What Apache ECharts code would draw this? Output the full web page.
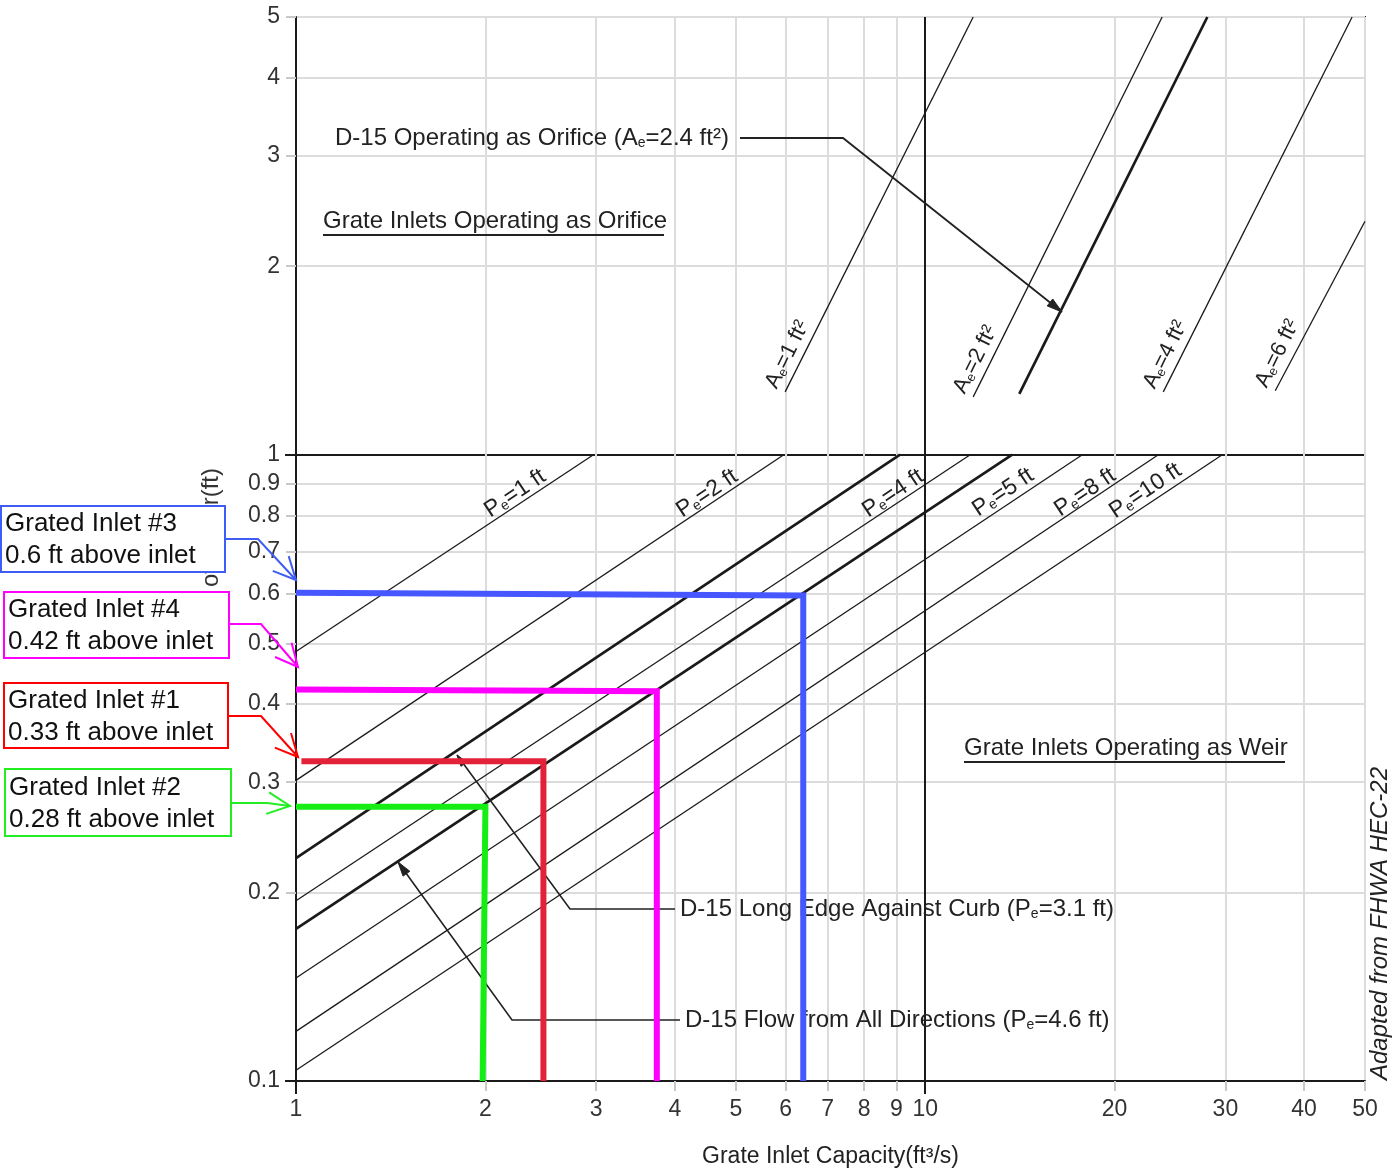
<!DOCTYPE html>
<html><head><meta charset="utf-8">
<script src="https://cdn.jsdelivr.net/npm/echarts@6/dist/echarts.min.js"></script>
<style>html,body{margin:0;padding:0;background:#fff}#c{width:1395px;height:1173px}</style>
</head><body><div id="c"></div>
<script>
// ---------- axis ticks ----------
const xTicks = [1,2,3,4,5,6,7,8,9,10,20,30,40,50];
const yTicks = [0.1,0.2,0.3,0.4,0.5,0.6,0.7,0.8,0.9,1,2,3,4,5];
const xDecades = [1,10];
const yDecades = [0.1,1];

// ---------- weir lines (Pe): capacity where the line meets d = 1 ft, depth where it meets Q = 1 cfs ----------
const weirP = ['1','2','3.1','4','4.6','5','8','10'];
const weirQatD1 = [2.97,5.96,9.12,11.79,13.75,17.77,23.47,29.66];
const weirDatQ1 = [0.485,0.302,0.227,0.194,0.175,0.146,0.120,0.104];
const weirBold  = [false,false,true,false,true,false,false,false];
const weirLabelled = [true,true,false,true,false,true,true,true];

// ---------- orifice lines (Ae): lower end and upper end ----------
const orificeA = ['1','2','2.4','4','6'];
const orificeLowQ  = [5.99,11.92,14.11,23.9,36.0];
const orificeLowD  = [1.26,1.237,1.251,1.26,1.265];
const orificeHighQ = [11.92,23.8,28.08,47.7,50];
const orificeHighD = [5,5,5,5,2.36];
const orificeBold  = [false,false,true,false,false];
const orificeLabelled = [true,true,false,true,true];

// ---------- grated inlets ----------
const inletNames = ['Grated Inlet #3','Grated Inlet #4','Grated Inlet #1','Grated Inlet #2'];
const inletDepthText = ['0.6','0.42','0.33','0.28'];
const inletQStart  = [1, 1, 1.02, 1];
const inletHeadStart = [0.602, 0.422, 0.324, 0.274];
const inletHeadEnd   = [0.596, 0.419, 0.324, 0.274];
const inletQTop    = [6.40, 3.745, 2.473, 2.00];
const inletQBottom = [6.40, 3.745, 2.473, 1.98];

const inletColors = ['#4657ff','#ff00ff','#e3223a','#14ee14'];
const boxColors   = ['#3f5cf5','#ff00ff','#ff0000','#22ee22'];
const FF = '"Liberation Sans", Arial, Helvetica, sans-serif';
const L = Math.log10;
const yMin = 0.1, yMax = 5, xMin = 1, xMax = 50;

function fmt(v){ return String(parseFloat(Math.pow(10, v).toPrecision(3))); }

const series = [];
weirP.forEach((p,i)=>{
  series.push({type:'line', silent:true, symbol:'none', z:2,
    data:[[L(1), L(weirDatQ1[i])],[L(weirQatD1[i]), L(1)]],
    lineStyle:{color:'#1a1a1a', width: weirBold[i]?2.7:1.3}});
});
orificeA.forEach((a,i)=>{
  series.push({type:'line', silent:true, symbol:'none', z:2,
    data:[[L(orificeLowQ[i]), L(orificeLowD[i])],[L(orificeHighQ[i]), L(orificeHighD[i])]],
    lineStyle:{color:'#1a1a1a', width: orificeBold[i]?2.7:1.3}});
});
inletNames.forEach((n,i)=>{
  series.push({type:'line', silent:true, symbol:'none', z:10,
    data:[[L(inletQStart[i]), L(inletHeadStart[i])],[L(inletQTop[i]), L(inletHeadEnd[i])],[L(inletQBottom[i]), L(yMin)]],
    lineStyle:{color:inletColors[i], width:6, join:'miter', cap:'butt'}});
});

// ---------- annotations (pixel layout) ----------
function head(tip, from, len, ang){
  const dx=from[0]-tip[0], dy=from[1]-tip[1], d=Math.hypot(dx,dy), ux=dx/d, uy=dy/d;
  const c=Math.cos(ang), s=Math.sin(ang);
  return [[tip[0]+len*(ux*c-uy*s), tip[1]+len*(ux*s+uy*c)], tip, [tip[0]+len*(ux*c+uy*s), tip[1]+len*(-ux*s+uy*c)]];
}
const G = [];
function text(x,y,t,o){
  o = o||{};
  G.push({type:'text', x:x, y:y, rotation:o.rot||0, z:o.z||5, silent:true,
    style:{text:t, fontSize:o.fs||24, fontFamily:FF, fontStyle:o.italic?'italic':'normal', fill:o.color||'#222',
      align:o.align||'left', textAlign:o.align||'left', verticalAlign:o.va||'middle', textVerticalAlign:o.va||'middle',
      lineHeight:o.lh, rich:o.rich}});
}
function poly(pts, color, w, z){ G.push({type:'polyline', z:z||5, silent:true, shape:{points:pts}, style:{stroke:color, lineWidth:w, fill:null}}); }
function tri(pts, color, z){ G.push({type:'polygon', z:z||5, silent:true, shape:{points:pts}, style:{fill:color, stroke:color, lineWidth:1}}); }

const richBase = (fs)=>({n:{fontSize:fs, fontFamily:FF, fill:'#222', verticalAlign:'bottom', lineHeight:fs+2},
                        s:{fontSize:Math.round(fs*0.6), fontFamily:FF, fill:'#222', verticalAlign:'bottom', lineHeight:fs+2}});

// y axis name (mostly hidden behind boxes)
text(211, 468, 'Depth of Water(ft)', {align:'right', rot:Math.PI/2, z:1, fs:24, color:'#333'});
// source note
text(1380, 1080, 'Adapted from FHWA HEC-22', {rot:Math.PI/2, italic:true, fs:24, color:'#222'});

// region titles
text(323, 221, 'Grate Inlets Operating as Orifice', {fs:24});
poly([[323,235],[664,235]], '#222', 1.8);
text(964, 748, 'Grate Inlets Operating as Weir', {fs:24});
poly([[964,762],[1285,762]], '#222', 1.8);

// D-15 orifice callout
text(335, 137, '{n|D-15 Operating as Orifice (A}{s|e}{n|=2.4 ft²)}', {rich:richBase(24)});
poly([[740,138],[843,138],[1062,312]], '#222', 1.8);
tri(head([1062,312],[843,138],16,0.28), '#222');
// D-15 long edge callout
text(680, 908, '{n|D-15 Long Edge Against Curb (P}{s|e}{n|=3.1 ft)}', {rich:richBase(24)});
poly([[675,909],[570,909],[457,755]], '#222', 1.6);
tri(head([457,755],[570,909],12,0.3), '#222');
// D-15 all directions callout
text(685, 1019, '{n|D-15 Flow from All Directions (P}{s|e}{n|=4.6 ft)}', {rich:richBase(24)});
poly([[680,1020],[512,1020],[398,862]], '#222', 1.6);
tri(head([398,862],[512,1020],15,0.28), '#222');

// weir labels
const weirLabelPos = [[493,522],[685,522],null,[871,522],null,[981,521],[1063,521],[1118,523]];
weirP.forEach((p,i)=>{
  if(!weirLabelled[i]) return;
  const q = weirLabelPos[i];
  text(q[0], q[1], '{n|P}{s|e}{n|='+p+' ft}', {rich:richBase(23), va:'bottom', rot:Math.atan(2/3)});
});
// orifice labels
const orificeLabelPos = [[781,392],[969,397],null,[1159,392],[1271,391]];
orificeA.forEach((a,i)=>{
  if(!orificeLabelled[i]) return;
  const q = orificeLabelPos[i];
  text(q[0], q[1], '{n|A}{s|e}{n|='+a+' ft²}', {rich:richBase(22), va:'bottom', rot:Math.atan(2)});
});

// inlet boxes and arrows
const boxes = [[1,506,224,66],[4,592,225,66],[4,683,224,65],[5,769,226,67]];
const arrows = [
  [[225,539],[258,539],[296,580]],
  [[229,624],[261,624],[298,667]],
  [[228,716],[261,716],[298,757]],
  [[231,803],[267,803],[290,806]]
];
inletNames.forEach((n,i)=>{
  const b = boxes[i];
  G.push({type:'rect', z:20, silent:true, shape:{x:b[0], y:b[1], width:b[2], height:b[3]},
    style:{fill:'#fff', stroke:boxColors[i], lineWidth:2}});
  text(b[0]+4, b[1]+b[3]/2+1, n+'\n'+inletDepthText[i]+' ft above inlet', {fs:26, lh:32, z:21, color:'#111'});
  const a = arrows[i];
  poly(a, boxColors[i], 2, 20);
  poly(head(a[2], a[1], 25, 0.45), boxColors[i], 2, 20);
});

const chart = echarts.init(document.getElementById('c'), null, {renderer:'canvas'});
const lblStyle = {color:'#333', fontSize:23, fontFamily:FF};
chart.setOption({
  animation:false,
  backgroundColor:'#fff',
  textStyle:{fontFamily:FF},
  grid:{left:296, right:30, top:17, bottom:90, show:true, borderColor:'#1a1a1a', borderWidth:2, backgroundColor:'transparent'},
  xAxis:[
    {type:'value', min:L(xMin), max:L(xMax), position:'bottom',
     axisLine:{show:true, onZero:false, lineStyle:{color:'#1a1a1a', width:2}},
     axisTick:{show:true, customValues:xTicks.map(L), length:10, lineStyle:{color:'#c8c8c8', width:2}},
     axisLabel:{customValues:xTicks.map(L), formatter:fmt, margin:17, ...lblStyle},
     splitLine:{show:true, lineStyle:{color:'#dcdcdc', width:2}},
     name:'Grate Inlet Capacity(ft³/s)', nameLocation:'middle', nameGap:64,
     nameTextStyle:{color:'#222', fontSize:23, fontFamily:FF}},
    {type:'value', min:L(xMin), max:L(xMax), position:'bottom',
     axisLine:{show:false, onZero:false},
     axisTick:{show:true, customValues:xDecades.map(L), length:13, lineStyle:{color:'#1a1a1a', width:2}},
     axisLabel:{show:false},
     splitLine:{show:true, lineStyle:{color:'#1a1a1a', width:2}}}
  ],
  yAxis:[
    {type:'value', min:L(yMin), max:L(yMax), position:'left',
     axisLine:{show:true, onZero:false, lineStyle:{color:'#1a1a1a', width:2}},
     axisTick:{show:true, customValues:yTicks.map(L), length:10, lineStyle:{color:'#c8c8c8', width:2}},
     axisLabel:{customValues:yTicks.map(L), formatter:fmt, margin:16, ...lblStyle},
     splitLine:{show:true, lineStyle:{color:'#dcdcdc', width:2}}},
    {type:'value', min:L(yMin), max:L(yMax), position:'left',
     axisLine:{show:false, onZero:false},
     axisTick:{show:true, customValues:yDecades.map(L), length:11, lineStyle:{color:'#1a1a1a', width:2}},
     axisLabel:{show:false},
     splitLine:{show:true, lineStyle:{color:'#1a1a1a', width:2}}}
  ],
  series:series,
  graphic:{elements:G}
});
</script></body></html>
